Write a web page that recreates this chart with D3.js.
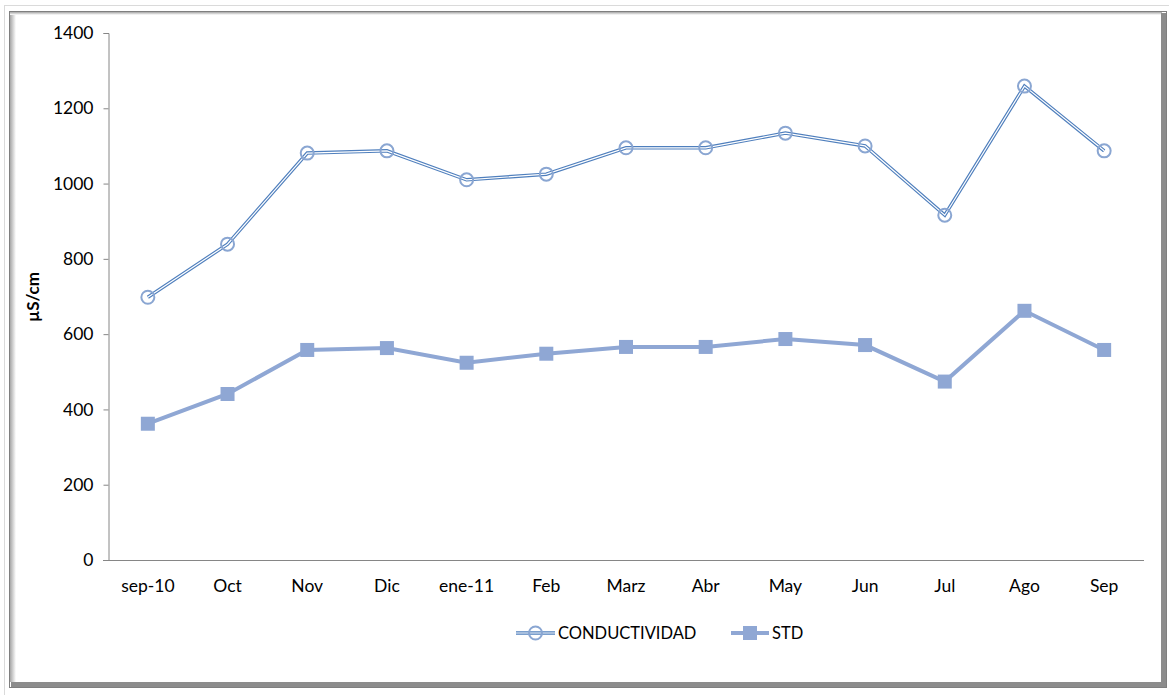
<!DOCTYPE html>
<html>
<head>
<meta charset="utf-8">
<script src="https://cdn.jsdelivr.net/npm/d3@7"></script>
<style>
  body { margin: 0; background: #fff; }
  svg { display: block; font-family: Lato, "Open Sans", sans-serif; }
</style>
</head>
<body>
<svg id="chart" width="1169" height="695"></svg>
<script>
// months along the x axis
const months = ["sep-10", "Oct", "Nov", "Dic", "ene-11", "Feb", "Marz", "Abr", "May", "Jun", "Jul", "Ago", "Sep"];
// conductividad (µS/cm)
const conductividad = [698, 839, 1081, 1087, 1010, 1025, 1095, 1095, 1134, 1100, 916, 1259, 1087];
// solidos totales disueltos
const std = [362, 441, 558, 563, 524, 548, 566, 566, 587, 571, 474, 662, 558];
const yTicks = [0, 200, 400, 600, 800, 1000, 1200, 1400];

const width = 1169, height = 695;
const svg = d3.select("#chart");

// --- frame (excel style chart border with shadow)
svg.append("rect")
  .attr("x", 4.5).attr("y", 5.5)
  .attr("width", 1166).attr("height", 690)
  .attr("fill", "none").attr("stroke", "#dadada");

let defs = svg.append("defs");
let gl = defs.append("linearGradient").attr("id", "shadowL");
gl.append("stop").attr("offset", "0").attr("stop-color", "#a6a6a6");
gl.append("stop").attr("offset", "1").attr("stop-color", "#ffffff");
let gt = defs.append("linearGradient").attr("id", "shadowT")
  .attr("x1", 0).attr("y1", 0).attr("x2", 0).attr("y2", 1);
gt.append("stop").attr("offset", "0").attr("stop-color", "#a6a6a6");
gt.append("stop").attr("offset", "1").attr("stop-color", "#ffffff");

svg.append("rect")
  .attr("x", 9).attr("y", 11)
  .attr("width", 1158).attr("height", 677)
  .attr("fill", "#fff");
svg.append("rect").attr("x", 10).attr("y", 12).attr("width", 6).attr("height", 670).attr("fill", "url(#shadowL)");
svg.append("rect").attr("x", 10).attr("y", 12).attr("width", 1152).attr("height", 3).attr("fill", "url(#shadowT)");
// right and bottom dark edges
svg.append("rect").attr("x", 1161).attr("y", 13).attr("width", 6).attr("height", 675).attr("fill", "#8c8c8c");
svg.append("rect").attr("x", 11).attr("y", 682).attr("width", 1156).attr("height", 6).attr("fill", "#8c8c8c");
svg.append("rect")
  .attr("x", 9.5).attr("y", 11.5)
  .attr("width", 1157).attr("height", 676)
  .attr("fill", "none").attr("stroke", "#7f7f7f");

// --- scales
let x = d3.scaleBand().domain(months).range([108, 1144]);
let y = d3.scaleLinear().domain([0, 1400]).range([560, 33]);
const cx = (d, i) => x(months[i]) + x.bandwidth() / 2;

// --- axes
let yAxis = svg.append("g")
  .attr("transform", "translate(108.5,0)")
  .call(d3.axisLeft(y).tickValues(yTicks).tickSize(5).tickPadding(10).tickFormat(d3.format("d")));
yAxis.select(".domain").attr("stroke", "#868686");
yAxis.selectAll(".tick line").attr("stroke", "#868686");
yAxis.selectAll(".tick text")
  .attr("font-size", 17.5).attr("fill", "#000")
  .attr("font-family", "Lato, sans-serif");

let xAxis = svg.append("g")
  .attr("transform", "translate(0,560.5)")
  .call(d3.axisBottom(x).tickSize(0).tickPadding(19));
xAxis.select(".domain").attr("stroke", "#868686").attr("d", "M103,0H1144");
xAxis.selectAll(".tick text")
  .attr("font-size", 17.5).attr("fill", "#000")
  .attr("font-family", "Lato, sans-serif");

// y axis title
svg.append("text")
  .attr("transform", "translate(39,297) rotate(-90)")
  .attr("text-anchor", "middle")
  .attr("font-size", 17).attr("font-weight", "bold")
  .text("µS/cm");

// --- series
let line = d3.line().x(cx).y(d => y(d));

// STD: thick light blue line with squares
svg.append("path")
  .datum(std)
  .attr("d", line)
  .attr("fill", "none")
  .attr("stroke", "#8fa7d4")
  .attr("stroke-width", 4);
svg.selectAll(".sq")
  .data(std)
  .enter()
  .append("rect")
  .attr("class", "sq")
  .attr("x", (d, i) => cx(d, i) - 7)
  .attr("y", d => y(d) - 7)
  .attr("width", 14).attr("height", 14)
  .attr("fill", "#8fa7d4");

// CONDUCTIVIDAD: double line (blue edges, white core) with open circles
svg.append("path")
  .datum(conductividad)
  .attr("d", line)
  .attr("fill", "none")
  .attr("stroke", "#4f7fbd")
  .attr("stroke-width", 3.5);
svg.append("path")
  .datum(conductividad)
  .attr("d", line)
  .attr("fill", "none")
  .attr("stroke", "#fff")
  .attr("stroke-width", 1.2);
svg.selectAll(".circ")
  .data(conductividad)
  .enter()
  .append("circle")
  .attr("class", "circ")
  .attr("cx", cx)
  .attr("cy", d => y(d))
  .attr("r", 6.5)
  .attr("fill", "none")
  .attr("stroke", "#8aa6d2")
  .attr("stroke-width", 2);

// --- legend
let leg1 = svg.append("g").attr("transform", "translate(516,633)");
leg1.append("line").attr("x1", 0).attr("x2", 39).attr("stroke", "#4f7fbd").attr("stroke-width", 3.5);
leg1.append("line").attr("x1", 0).attr("x2", 39).attr("stroke", "#fff").attr("stroke-width", 1.2);
leg1.append("circle").attr("cx", 19.5).attr("r", 6.5).attr("fill", "none").attr("stroke", "#8aa6d2").attr("stroke-width", 2);
leg1.append("text").attr("x", 42).attr("dy", "0.35em").attr("font-size", 16.5).text("CONDUCTIVIDAD");

let leg2 = svg.append("g").attr("transform", "translate(731,633)");
leg2.append("line").attr("x1", 0).attr("x2", 38).attr("stroke", "#8fa7d4").attr("stroke-width", 4);
leg2.append("rect").attr("x", 12).attr("y", -7).attr("width", 14).attr("height", 14).attr("fill", "#8fa7d4");
leg2.append("text").attr("x", 41).attr("dy", "0.35em").attr("font-size", 16.5).text("STD");
</script>
</body>
</html>
